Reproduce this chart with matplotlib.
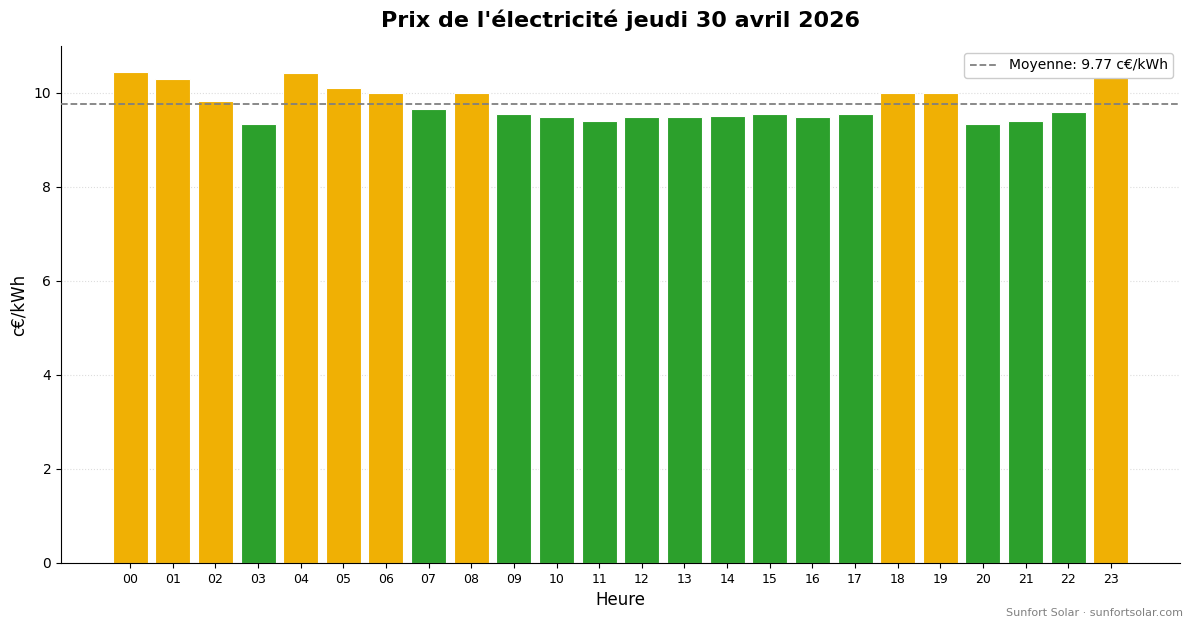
import matplotlib.pyplot as plt
import numpy as np

heures = [f"{h:02d}" for h in range(24)]
prix = [10.44, 10.29, 9.84, 9.33, 10.42, 10.10, 10.00, 9.65, 10.00,
        9.55, 9.48, 9.40, 9.48, 9.48, 9.52, 9.55, 9.48, 9.55,
        10.00, 10.00, 9.33, 9.40, 9.59, 10.60]
moyenne = 9.77

orange = "#f0b004"
vert = "#2ca02c"
couleurs = [orange if p > moyenne else vert for p in prix]

fig = plt.figure(figsize=(11.93, 6.28), dpi=100)
ax = fig.add_axes([61 / 1193, 1 - 563 / 628, (1180 - 61) / 1193, (563 - 46) / 628])

x = np.arange(len(heures))
ax.bar(x, prix, width=0.82, color=couleurs, edgecolor="white", linewidth=0.8, zorder=2)
ax.axhline(moyenne, color="gray", linestyle="--", linewidth=1.3,
           label=f"Moyenne: {moyenne:.2f} c€/kWh", zorder=3)

ax.set_xticks(x)
ax.set_xticklabels(heures, fontsize=9)
ax.tick_params(axis="y", labelsize=10)
ax.set_xlim(-1.62, 24.62)
ax.set_ylim(0, 11)
ax.grid(axis="y", linestyle=":", color="#dddddd", linewidth=0.8, zorder=0)
ax.spines["top"].set_visible(False)
ax.spines["right"].set_visible(False)

ax.set_xlabel("Heure", fontsize=12)
ax.set_ylabel("c€/kWh", fontsize=12)
ax.set_title("Prix de l'électricité jeudi 30 avril 2026", fontsize=16,
             fontweight="bold", pad=14)
leg = ax.legend(loc="upper right", fontsize=10, framealpha=1)
leg.set_zorder(5)

fig.text(1183 / 1193, 1 - 613 / 628, "Sunfort Solar · sunfortsolar.com",
         ha="right", va="center", fontsize=8, color="gray")

fig.savefig("out.png", dpi=100)
